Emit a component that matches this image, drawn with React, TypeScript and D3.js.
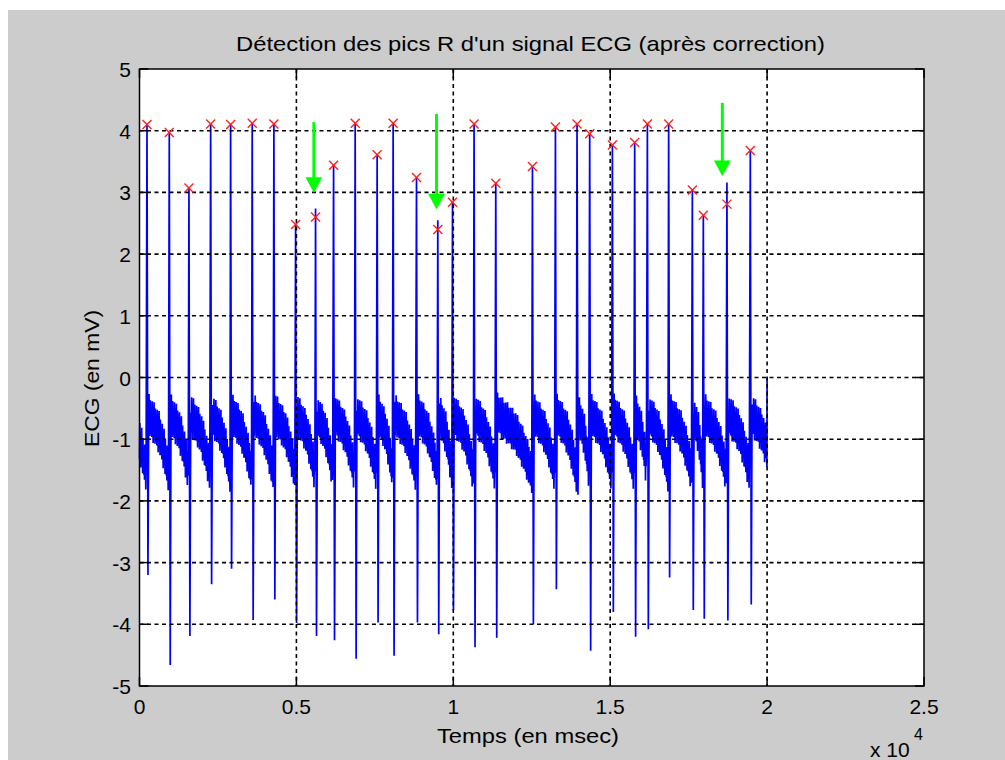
import * as d3 from 'd3';

// R peaks (time in ms, values in mV)
const rTimes = [239, 949, 1576, 2268, 2904, 3592, 4283, 4975, 5611, 6185, 6873, 7573, 8083, 8828, 9506,
  9975, 10662, 11354, 12522, 13255, 13943, 14347, 15070, 15780, 16185, 16863, 17618, 17968, 18720, 19465];
// detected values (red crosses)
const rMarks = [4.10, 3.97, 3.07, 4.11, 4.10, 4.12, 4.11, 2.48, 2.60, 3.44, 4.12, 3.61, 4.12, 3.24, 2.40,
  2.84, 4.11, 3.15, 3.42, 4.06, 4.11, 3.95, 3.77, 3.81, 4.11, 4.11, 3.04, 2.63, 2.81, 3.68];
// real spike tops (differ from the crosses where the arrows are)
const rTops = [4.10, 3.97, 3.07, 4.11, 4.10, 4.12, 4.11, 2.48, 2.74, 3.44, 4.12, 3.61, 4.12, 3.24, 2.55,
  2.84, 4.11, 3.15, 3.42, 4.06, 4.11, 3.95, 3.77, 3.81, 4.11, 4.11, 3.04, 2.63, 3.16, 3.68];
// S troughs following each R
const sDepths = [-3.2, -4.66, -4.19, -3.35, -3.1, -3.93, -3.6, -3.98, -4.19, -4.26, -4.56, -3.97, -4.51, -3.97, -4.16,
  -3.77, -4.37, -4.22, -4.0, -3.43, -1.9, -4.43, -3.8, -4.2, -4.08, -3.24, -3.77, -3.91, -3.94, -3.68];

// baseline band between two beats (phase 0 = just after a beat, 1 = next beat)
const envPhase = [0, 0.15, 0.35, 0.55, 0.75, 0.9, 1];
const envTop = [-0.22, -0.3, -0.42, -0.55, -0.8, -1.05, -1.25];
const envBottom = [-0.85, -1.0, -1.1, -1.25, -1.5, -1.75, -1.9];
// position inside the band, sample after sample
const noiseFrac = [0.1, 0.95, 0.3, 0.8, 0.0, 0.7, 0.45, 1.0, 0.2, 0.6, 0.05, 0.9, 0.35, 0.75, 0.15, 0.55];
const signalEnd = 20000;
const endValue = 0;

// green arrows
const arrowTimes = [5557, 9465, 18573];
const arrowFrom = [4.14, 4.27, 4.45];
const arrowTo = [3.0, 2.73, 3.27];

const xTicks = [0, 5000, 10000, 15000, 20000, 25000];
const xTickLabels = ['0', '0.5', '1', '1.5', '2', '2.5'];
const yTicks = [-5, -4, -3, -2, -1, 0, 1, 2, 3, 4, 5];

const W = 1005;
const H = 760;
const left = 139.5;
const right = 924;
const top = 69;
const bottom = 686;
const font = '"Liberation Sans", Arial, sans-serif';

function buildSignal() {
  const up = d3.scaleLinear(envPhase, envTop).clamp(true);
  const lo = d3.scaleLinear(envPhase, envBottom).clamp(true);
  const pts: [number, number][] = [];
  const step = 10;
  const nominal = 700;
  let k = 0;
  const band = (t: number, p: number) => {
    const f = noiseFrac[k++ % noiseFrac.length];
    pts.push([t, lo(p) + f * (up(p) - lo(p))]);
  };
  for (let t = 0; t < rTimes[0] - 20; t += step) band(t, (t - (rTimes[0] - nominal)) / nominal);
  rTimes.forEach((t0, i) => {
    pts.push([t0, rTops[i]]);
    pts.push([t0 + 30, sDepths[i]]);
    const last = i === rTimes.length - 1;
    const t1 = last ? signalEnd : rTimes[i + 1];
    const span = last ? nominal : t1 - t0;
    for (let t = t0 + 55; t < t1 - 20; t += step) band(t, (t - t0) / span);
  });
  pts.push([signalEnd - 5, -1.45]);
  pts.push([signalEnd, endValue]);
  return pts;
}

export default function App() {
  const x = d3.scaleLinear([0, 25000], [left, right]);
  const y = d3.scaleLinear([-5, 5], [bottom, top]);
  const line = d3.line<[number, number]>().x((d) => x(d[0])).y((d) => y(d[1]));
  const signal = buildSignal();

  return (
    <svg width={W} height={H} style={{ position: 'absolute', left: 0, top: 0 }} fontFamily={font}>
      <rect x={0} y={0} width={W} height={H} fill="#ffffff" />
      <rect x={8} y={10} width={W - 8} height={H - 10} fill="#cccccc" />
      <rect x={left} y={top} width={right - left} height={bottom - top} fill="#ffffff" />

      <path d={line(signal) ?? ''} fill="none" stroke="#0000ff" strokeWidth={1.7} strokeLinejoin="miter" />

      <g stroke="#000" strokeWidth={1.6} strokeDasharray="4,3.5">
        {xTicks.slice(1, -1).map((t) => (
          <line key={'gx' + t} x1={x(t)} x2={x(t)} y1={top} y2={bottom} />
        ))}
        {yTicks.slice(1, -1).map((t) => (
          <line key={'gy' + t} x1={left} x2={right} y1={y(t)} y2={y(t)} />
        ))}
      </g>

      <g stroke="#ff2020" strokeWidth={1.4}>
        {rTimes.map((t, i) => (
          <g key={'m' + i} transform={`translate(${x(t)},${y(rMarks[i])})`}>
            <line x1={-4.5} y1={-4.5} x2={4.5} y2={4.5} />
            <line x1={-4.5} y1={4.5} x2={4.5} y2={-4.5} />
          </g>
        ))}
      </g>

      <g fill="#00ff00" stroke="#00ff00">
        {arrowTimes.map((t, i) => (
          <g key={'a' + i}>
            <line x1={x(t)} x2={x(t)} y1={y(arrowFrom[i])} y2={y(arrowTo[i]) - 12} strokeWidth={3} />
            <path d={`M${x(t) - 8},${y(arrowTo[i]) - 15}L${x(t) + 8},${y(arrowTo[i]) - 15}L${x(t)},${y(arrowTo[i])}Z`} strokeWidth={0.5} />
          </g>
        ))}
      </g>

      <g stroke="#000" strokeWidth={1.5}>
        <rect x={left} y={top} width={right - left} height={bottom - top} fill="none" />
        {xTicks.map((t) => (
          <g key={'tx' + t}>
            <line x1={x(t)} x2={x(t)} y1={bottom} y2={bottom - 9} />
            <line x1={x(t)} x2={x(t)} y1={top} y2={top + 9} />
          </g>
        ))}
        {yTicks.map((t) => (
          <g key={'ty' + t}>
            <line x1={left} x2={left + 9} y1={y(t)} y2={y(t)} />
            <line x1={right} x2={right - 9} y1={y(t)} y2={y(t)} />
          </g>
        ))}
      </g>

      <g fill="#000" fontSize={21}>
        {xTicks.map((t, i) => (
          <text key={'lx' + t} x={x(t)} y={714} textAnchor="middle">{xTickLabels[i]}</text>
        ))}
        {yTicks.map((t) => (
          <text key={'ly' + t} x={131} y={y(t) + 8} textAnchor="end">{t}</text>
        ))}
        <text x={530.5} y={51} textAnchor="middle" textLength={589} lengthAdjust="spacingAndGlyphs">
          Détection des pics R d'un signal ECG (après correction)
        </text>
        <text x={528} y={743} textAnchor="middle" textLength={182} lengthAdjust="spacingAndGlyphs">
          Temps (en msec)
        </text>
        <text transform="translate(99,378.5) rotate(-90)" textAnchor="middle" textLength={137} lengthAdjust="spacingAndGlyphs">
          ECG (en mV)
        </text>
        <text x={870} y={757}>x 10</text>
        <text x={914} y={740} fontSize={16}>4</text>
      </g>
    </svg>
  );
}
